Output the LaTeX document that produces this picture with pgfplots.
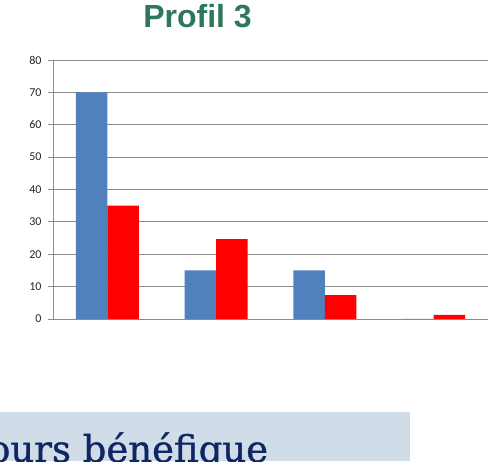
\documentclass[border=0pt]{standalone}
\usepackage{fontspec}
\setmainfont{Carlito}
\newfontfamily\titlefont{Liberation Sans}
\newfontfamily\slabfont[FakeBold=1]{DejaVu Serif}
\usepackage{pgfplots}
\pgfplotsset{compat=1.18}
\definecolor{barblue}{RGB}{79,129,189}
\definecolor{barred}{RGB}{255,0,0}
\definecolor{titlegreen}{RGB}{46,120,90}
\definecolor{gridgray}{RGB}{140,140,140}
\definecolor{boxcol}{RGB}{208,221,232}
\definecolor{navy}{RGB}{16,38,100}
\begin{document}
\begin{tikzpicture}[x=1pt,y=1pt]
\useasboundingbox (0,0) rectangle (493,461);
\clip (0,0) rectangle (493,461);
\fill[boxcol] (0,0) rectangle (410,49);
\node[anchor=base west, text=navy, font=\slabfont\fontsize{37}{42}\selectfont, inner sep=0pt] at (-12,-1) {ours bénéfique};
\node[anchor=base, text=titlegreen, font=\titlefont\bfseries\fontsize{32}{36}\selectfont, inner sep=0pt] at (197.5,433) {Profil 3};
\begin{axis}[
  at={(53pt,142pt)}, anchor=south west,
  scale only axis, width=435pt, height=259pt,
  ymin=0, ymax=80, xmin=-0.5, xmax=3.5,
  ybar=0pt, bar width=31.5pt,
  axis x line*=bottom, axis y line*=left,
  axis line style={draw=gridgray, line width=0.9pt, -},
  ytick={0,10,...,80}, xtick=\empty,
  ymajorgrids, grid style={draw=gridgray, line width=0.9pt},
  tick align=outside, major tick length=5pt,
  tick style={draw=gridgray, line width=0.9pt},
  /pgf/number format/assume math mode=true,
  yticklabel style={font=\fontsize{12}{14}\selectfont, text=black!85, xshift=-3pt},
]
\addplot[fill=barblue, draw=none] coordinates {(0,70) (1,15) (2,15) (3,0)};
\addplot[fill=barred, draw=none] coordinates {(0,35) (1,24.7) (2,7.4) (3,1.3)};
\end{axis}
\end{tikzpicture}
\end{document}
